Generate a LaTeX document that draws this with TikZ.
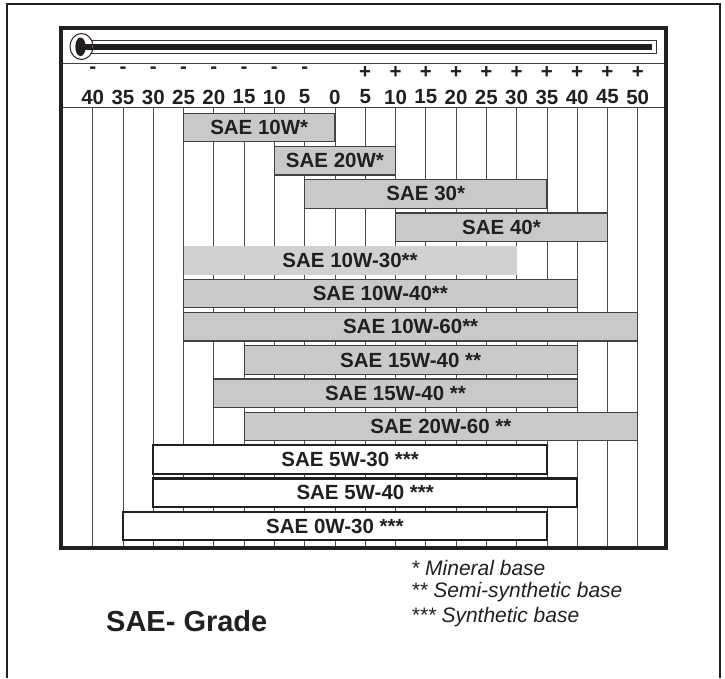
\documentclass[tikz,border=0pt]{standalone}
\usepackage{fontspec}
\setmainfont{Liberation Sans}
\definecolor{barfill}{HTML}{C8C9CB}
\definecolor{lightfill}{HTML}{D0D1D3}
\definecolor{ink}{HTML}{231F20}
\begin{document}
\begin{tikzpicture}[x=1pt,y=-1pt,
  barbase/.style={rectangle, inner sep=0pt, minimum height=28.5pt, text=ink,
    font=\bfseries\fontsize{20.5}{20.5}\selectfont},
  graybar/.style={barbase, draw=ink!85, line width=1.2pt, fill=barfill},
  lightbar/.style={barbase, fill=lightfill},
  whitebar/.style={barbase, draw=ink, line width=2.2pt, fill=white},
  gridline/.style={draw=black!70, line width=0.8pt},
  scalelabel/.style={text=ink, inner sep=0pt, font=\bfseries\fontsize{20.5}{20.5}\selectfont},
  legendtext/.style={anchor=west, inner sep=0pt, text=ink, font=\itshape\fontsize{21}{21}\selectfont},
]
\useasboundingbox (0,0) rectangle (725,678);
% outer frame (open at the bottom)
\draw[ink, line width=1.8pt] (7,678) -- (7,4) -- (720,4) -- (720,678);
% horizontal separators
\draw[black!75, line width=0.8pt] (61,63) -- (666,63);
\draw[black!75, line width=0.8pt] (61,107) -- (666,107);
% grid and scale labels
\foreach \v [count=\k] in {-40,-35,...,50} {
  \pgfmathsetmacro\gx{92.7+(\v+40)*6.056}
  \pgfmathtruncatemacro\av{abs(\v)}
  \draw[gridline] (\gx,107) -- (\gx,547);
  \node[scalelabel] (num\k) at (\gx,97) {\av};
  \ifnum\v<0 \node[scalelabel] (sgn\k) at (\gx,70.5) {-};\fi
  \ifnum\v>0 \node[scalelabel] (sgn\k) at (\gx,72) {+};\fi
}
% thermometer
\draw[black!80, line width=0.8pt] (91,40.7) -- (656,40.7) -- (656,53.3) -- (91,53.3);
\fill[ink] (84,44.3) rectangle (652,49.6);
\draw[ink, line width=1pt, fill=white] (81.5,46.5) ellipse [x radius=11.5, y radius=13];
\fill[ink] (80.5,46.8) ellipse [x radius=5.2, y radius=9.3];
\fill[ink] (84,44.3) rectangle (92,49.6);
% bars
\foreach \i/\a/\b/\t/\s in {
  0/-25/0/{SAE 10W*}/graybar,
  1/-10/10/{SAE 20W*}/graybar,
  2/-5/35/{SAE 30*}/graybar,
  3/10/45/{SAE 40*}/graybar,
  4/-25/30/{SAE 10W-30**}/lightbar,
  5/-25/40/{SAE 10W-40**}/graybar,
  6/-25/50/{SAE 10W-60**}/graybar,
  7/-15/40/{SAE 15W-40 **}/graybar,
  8/-20/40/{SAE 15W-40 **}/graybar,
  9/-15/50/{SAE 20W-60 **}/graybar,
  10/-30/35/{SAE 5W-30 ***}/whitebar,
  11/-30/40/{SAE 5W-40 ***}/whitebar,
  12/-35/35/{SAE 0W-30 ***}/whitebar} {
  \pgfmathsetmacro\xa{92.7+(\a+40)*6.056}
  \pgfmathsetmacro\xb{92.7+(\b+40)*6.056}
  \pgfmathsetmacro\xc{(\xa+\xb)/2}
  \pgfmathsetmacro\yc{113.3+33.2*\i+14.25}
  \pgfmathsetmacro\w{\xb-\xa}
  \node[\s, minimum width=\w pt] (bar\i) at (\xc,\yc) {\t};
}
% inner thick frame
\draw[ink, line width=4.5pt] (61,28) rectangle (666,548);
% legend
\node[anchor=west, inner sep=0pt, text=ink, font=\bfseries\fontsize{29}{29}\selectfont] (title) at (106,621) {SAE- Grade};
\node[legendtext] (leg1) at (411,568) {* Mineral base};
\node[legendtext] (leg2) at (411,592.5) {** Semi-synthetic base};
\node[legendtext] (leg3) at (411,617) {*** Synthetic base};
\end{tikzpicture}
\end{document}
